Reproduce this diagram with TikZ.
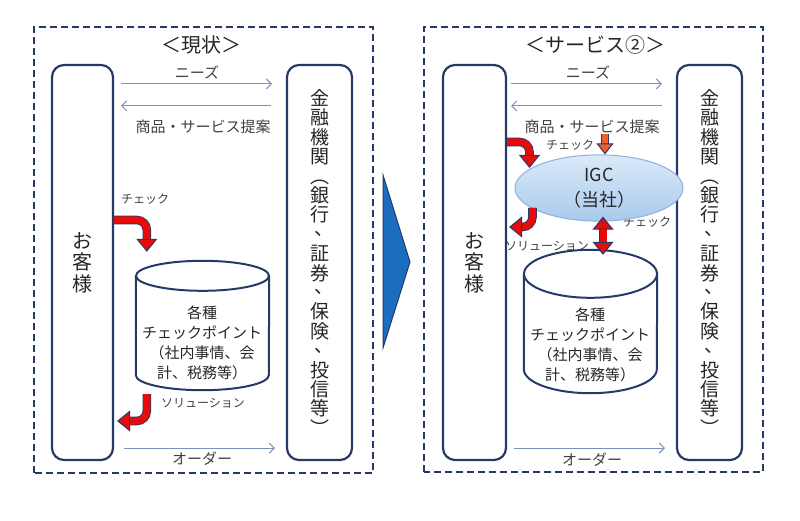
\documentclass[tikz,border=0pt]{standalone}
\usepackage{fontspec}
\setmainfont{Noto Sans CJK JP}
\usetikzlibrary{arrows.meta,shapes.geometric}
\definecolor{nv}{RGB}{38,58,104}
\definecolor{ln}{RGB}{125,145,185}
\definecolor{rd}{RGB}{230,12,12}
\definecolor{og}{RGB}{240,95,40}
\definecolor{bl}{RGB}{28,108,192}
\definecolor{sk}{RGB}{140,178,220}
\definecolor{s1}{RGB}{218,234,249}
\definecolor{s2}{RGB}{168,202,236}
\newcommand{\vc}{\raisebox{.3em}{\makebox[0pt]{\kern.5em 、}}}
\tikzset{
    TR/.tip ={Triangle[width=21pt,length=13pt,line width=1pt,fill=rd,color=nv]},
    TO/.tip ={Triangle[width=17pt,length=11pt,line width=1pt,fill=og,color=nv]},
    DB/.style ={draw=nv, line width=2.5pt, dash pattern=on 7pt off 4pt},
    RB/.style ={rectangle, rounded corners=12pt, draw=nv, line width=2.2pt, minimum height=395pt, align=center, inner sep=0pt, text=black!85},
    VT/.style ={font=\fontsize{19}{19.4}\selectfont},
    TT/.style ={text=black!85, font=\fontsize{20}{22}\selectfont},
    LB/.style ={inner sep=1pt, text=black!75, font=\fontsize{15}{17}\selectfont},
    SL/.style ={inner sep=1pt, text=black!75, font=\fontsize{12}{14}\selectfont},
    AR/.style ={draw=ln, line width=1pt, -{Straight Barb[length=5pt,width=10pt]}},
    CY/.style ={draw=nv, line width=2pt},
    CB/.style ={minimum width=133pt, inner sep=0pt},
    CT/.style ={align=center, text=black!85, font=\fontsize{15}{20}\selectfont},
    RA/.style ={preaction={draw=nv,line width=8.6pt,-,shorten >=12pt}, draw=rd, line width=7pt, rounded corners=10pt, -TR},
    DA/.style ={preaction={draw=nv,line width=8.6pt,-,shorten >=12pt,shorten <=12pt}, draw=rd, line width=7pt, TR-TR},
    OA/.style ={preaction={draw=nv,line width=7.4pt,-,shorten >=10pt}, draw=og, line width=6pt, -TO}}

\begin{document}
\begin{tikzpicture}[x=1pt,y=1pt]
        \useasboundingbox (0,0) rectangle (800,520);
        % left: current state
        \draw[DB] (34,47) rectangle (373,493);
        \node[TT] (5) at (201,475){＜現状＞};
        \node[RB,minimum width=61pt,font=\fontsize{20}{21.5}\selectfont] (1) at (82.5,257.5){お\\客\\様};
        \node[RB,VT,minimum width=65pt] (2) at (319.5,257.5){金\\融\\機\\関\\︵\\銀\\行\\\vc\\証\\券\\\vc\\保\\険\\\vc\\投\\信\\等\\︶};
        \node[CB,minimum height=99pt] (3) at (202.5,194.5){};
        \draw[CY] (3.north west) -- (3.south west) arc[start angle=180,end angle=360,x radius=66.5pt,y radius=15pt] -- (3.north east);
        \draw[CY] (3.north) ellipse[x radius=66.5pt,y radius=15pt];
        \node[CT] (4) at (202,177){各種\\チェックポイント\\（社内事情、会\\計、税務等）};
        \node[LB] (6) at (197,448){ニーズ};
        \node[LB] (7) at (203,393){商品・サービス提案};
        \node[SL] (8) at (145,321){チェック};
        \node[SL] (9) at (203,117){ソリューション};
        \node[LB] (10) at (202,61){オーダー};
        \draw[AR] ([xshift=7pt,yshift=-20pt]1.north east) -- ([xshift=-14pt,yshift=-20pt]2.north west);
        \draw[AR] ([xshift=-15pt,yshift=-42pt]2.north west) -- ([xshift=7pt,yshift=-42pt]1.north east);
        \draw[AR] ([xshift=10pt,yshift=13pt]1.south east) -- ([xshift=-11pt,yshift=13pt]2.south west);
        \draw[RA] ([yshift=42.5pt]1.east) -| ([xshift=11pt,yshift=24pt]3.north west);
        \draw[RA] ([xshift=11pt,yshift=-19pt]3.south west) |- ([xshift=3pt,yshift=-158.5pt]1.east);
        % middle arrow
        \draw[draw=nv,fill=bl,line width=1pt] (383,345) -- (410,258) -- (383,172) -- cycle;
        % right: service 2
        \draw[DB] (424,48) rectangle (763,493);
        \node[TT] (16) at (595,475){＜サービス②＞};
        \node[RB,minimum width=63pt,font=\fontsize{20}{21.5}\selectfont] (11) at (474.5,257.5){お\\客\\様};
        \node[RB,VT,minimum width=65pt] (12) at (709.5,257.5){金\\融\\機\\関\\︵\\銀\\行\\\vc\\証\\券\\\vc\\保\\険\\\vc\\投\\信\\等\\︶};
        \node[CB,minimum height=95pt] (13) at (590.5,198.5){};
        \draw[CY] (13.north west) -- (13.south west) arc[start angle=180,end angle=360,x radius=66.5pt,y radius=24pt] -- (13.north east);
        \draw[CY] (13.north) ellipse[x radius=66.5pt,y radius=24pt];
        \node[CT] (14) at (590,175){各種\\チェックポイント\\（社内事情、会\\計、税務等）};
        \node[LB] (17) at (588,448){ニーズ};
        \node[LB] (18) at (592,393){商品・サービス提案};
        \node[SL] (19) at (570,375){チェック};
        \node[SL] (20) at (647,298){チェック};
        \node[SL] (21) at (547,274){ソリューション};
        \node[LB] (22) at (592,60){オーダー};
        \draw[AR] ([xshift=4pt,yshift=-20pt]11.north east) -- ([xshift=-14pt,yshift=-20pt]12.north west);
        \draw[AR] ([xshift=-14pt,yshift=-42pt]12.north west) -- ([xshift=4pt,yshift=-42pt]11.north east);
        \draw[AR] ([xshift=7pt,yshift=13pt]11.south east) -- ([xshift=-11pt,yshift=13pt]12.south west);
        \node[ellipse,draw=sk,line width=1pt,top color=s1,bottom color=s2,minimum width=168pt,minimum height=60pt,align=center,text=black!85,font=\fontsize{18}{25}\selectfont] (15) at (599,332){IGC\\（当社）};
        \draw[RA] ([yshift=120.5pt]11.east) -| ([xshift=15pt,yshift=20pt]15.west);
        \draw[RA] ([xshift=18pt,yshift=-20pt]15.west) |- ([xshift=2pt,yshift=35.5pt]11.east);
        \draw[OA] ([xshift=6pt,yshift=20pt]15.north) -- ([xshift=6pt]15.north);
        \draw[DA] ([xshift=4pt,yshift=5pt]15.south) -- ([xshift=12.5pt,yshift=19pt]13.north);
    \end{tikzpicture}
\end{document}
